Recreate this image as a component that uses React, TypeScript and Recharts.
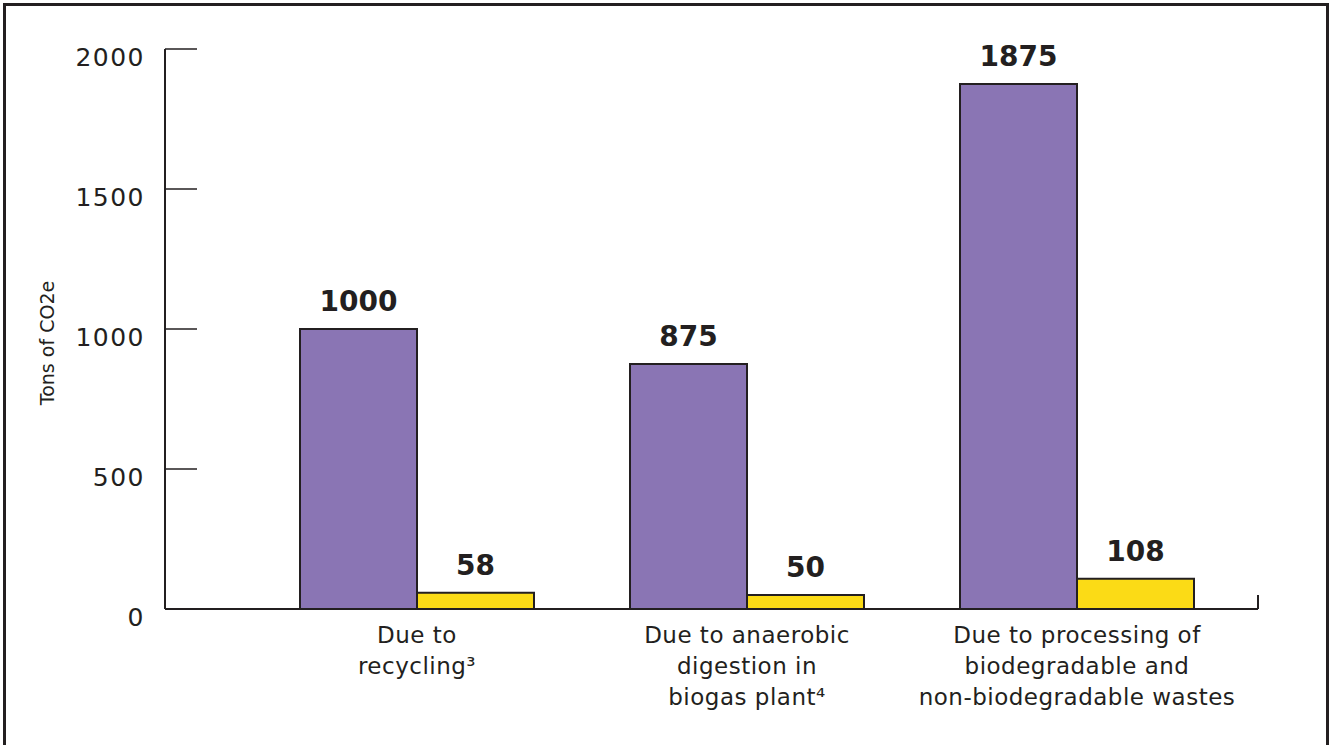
import React from "react";
import { Bar, BarChart, LabelList, XAxis, YAxis } from "recharts";

// categories, with the line breaks used under the axis
const categoryKeys = ["recycling", "anaerobic", "processing"];
const categoryLines = [
  ["Due to", "recycling³"],
  ["Due to anaerobic", "digestion in", "biogas plant⁴"],
  ["Due to processing of", "biodegradable and", "non-biodegradable wastes"],
];

// series values (tons of CO2e)
const purpleValues = [1000, 875, 1875];
const yellowValues = [58, 50, 108];

// y ticks
const yTicks = [0, 500, 1000, 1500, 2000];

const data = categoryKeys.map((name, i) => ({
  name,
  purple: purpleValues[i],
  yellow: yellowValues[i],
}));

const CHART_W = 1331;
const CHART_H = 745;
const MARGIN = { top: 49, right: 73, bottom: 0, left: 0 };
const PLOT_RIGHT = CHART_W - MARGIN.right;

const INK = "#231f20";
const PURPLE = "#8a75b4";
const YELLOW = "#fbdb16";
const FONT = "'DejaVu Sans', sans-serif";

function YTick({ x, y, payload }: any) {
  return (
    <g>
      <line x1={x} x2={x + 32} y1={y} y2={y} stroke={INK} strokeWidth={1.5} />
      {payload.value === 0 && (
        <line x1={PLOT_RIGHT} x2={PLOT_RIGHT} y1={y - 14} y2={y} stroke={INK} strokeWidth={2} />
      )}
      <text
        x={x - 20}
        y={y}
        dy={17}
        textAnchor="end"
        fill={INK}
        fontSize={25}
        letterSpacing={1.5}
        fontFamily={FONT}
      >
        {payload.value}
      </text>
    </g>
  );
}

function XTick({ x, y, index }: any) {
  const lines = categoryLines[index] ?? [];
  return (
    <text
      x={x}
      y={y}
      textAnchor="middle"
      fill={INK}
      fontSize={23}
      letterSpacing={0.5}
      fontFamily={FONT}
    >
      {lines.map((line, i) => (
        <tspan key={i} x={x} y={y + 34 + i * 31}>
          {line}
        </tspan>
      ))}
    </text>
  );
}

function YLabel({ viewBox }: any) {
  const cx = viewBox.x + 47;
  const cy = viewBox.y + viewBox.height / 2 + 14;
  return (
    <text
      x={cx}
      y={cy}
      transform={`rotate(-90, ${cx}, ${cy})`}
      textAnchor="middle"
      dominantBaseline="central"
      fill={INK}
      fontSize={19}
      fontFamily={FONT}
    >
      Tons of CO2e
    </text>
  );
}

export default function App() {
  return (
    <div
      style={{
        position: "absolute",
        left: 0,
        top: 0,
        width: CHART_W,
        height: CHART_H,
        overflow: "hidden",
        background: "#fff",
      }}
    >
      <div
        style={{
          position: "absolute",
          left: 3,
          top: 3,
          width: 1326,
          height: 800,
          boxSizing: "border-box",
          border: `3px solid ${INK}`,
        }}
      />
      <div style={{ position: "absolute", left: 0, top: 0 }}>
        <BarChart
          width={CHART_W}
          height={CHART_H}
          data={data}
          margin={MARGIN}
          barSize={117}
          barGap={0}
        >
          <XAxis
            dataKey="name"
            height={136}
            padding={{ left: 87, right: 16 }}
            axisLine={{ stroke: INK, strokeWidth: 2 }}
            tickLine={false}
            tickSize={0}
            tickMargin={0}
            interval={0}
            tick={<XTick />}
          />
          <YAxis
            width={165}
            domain={[0, 2000]}
            ticks={yTicks}
            axisLine={{ stroke: INK, strokeWidth: 2 }}
            tickLine={false}
            tickSize={0}
            tickMargin={0}
            tick={<YTick />}
            label={<YLabel />}
          />
          <Bar dataKey="purple" fill={PURPLE} stroke={INK} strokeWidth={2} isAnimationActive={false}>
            <LabelList
              dataKey="purple"
              position="top"
              offset={18}
              fill={INK}
              fontSize={28}
              fontWeight="bold"
              fontFamily={FONT}
            />
          </Bar>
          <Bar dataKey="yellow" fill={YELLOW} stroke={INK} strokeWidth={2} isAnimationActive={false}>
            <LabelList
              dataKey="yellow"
              position="top"
              offset={18}
              fill={INK}
              fontSize={28}
              fontWeight="bold"
              fontFamily={FONT}
            />
          </Bar>
        </BarChart>
      </div>
    </div>
  );
}
